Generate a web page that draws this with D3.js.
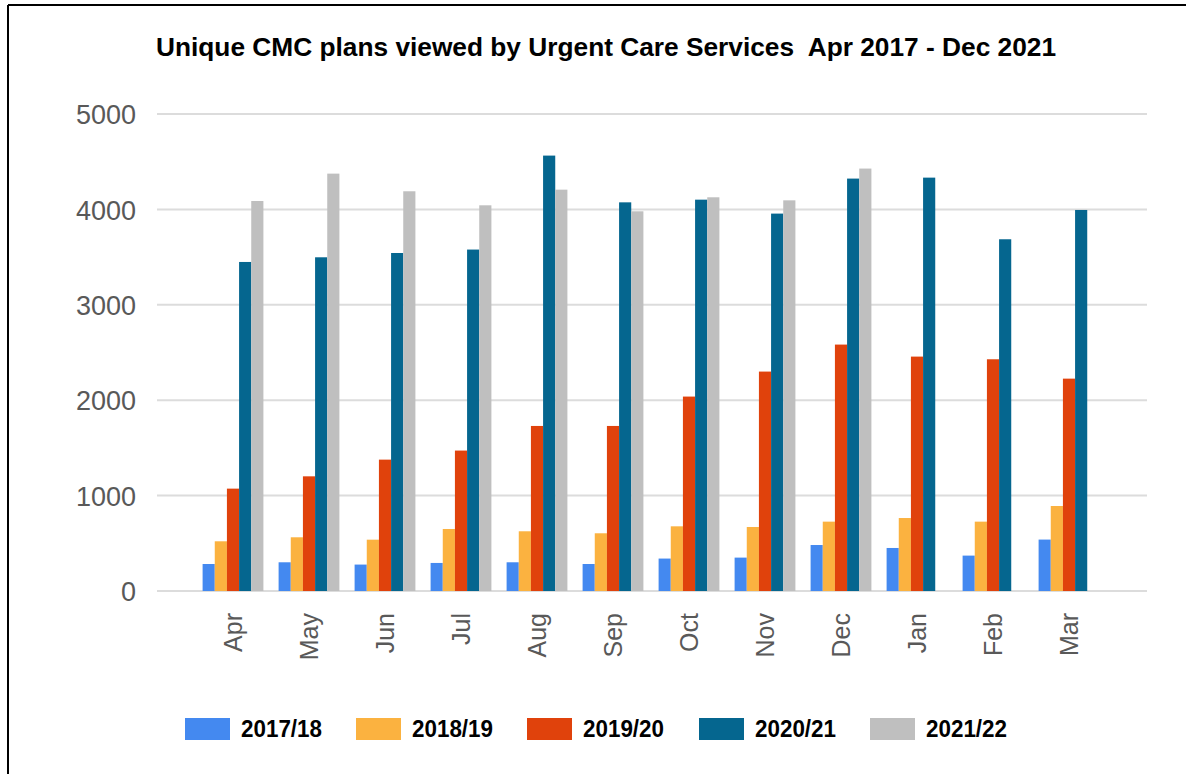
<!DOCTYPE html>
<html>
<head>
<meta charset="utf-8">
<script src="https://cdn.jsdelivr.net/npm/d3@7"></script>
<style>
  html, body { margin: 0; padding: 0; background: #fff; }
  svg { display: block; }
</style>
</head>
<body>
<svg id="chart" width="1186" height="774"></svg>
<script>
const months = ["Apr","May","Jun","Jul","Aug","Sep","Oct","Nov","Dec","Jan","Feb","Mar"];
const seriesNames = ["2017/18","2018/19","2019/20","2020/21","2021/22"];
const seriesColors = ["#4489f0","#fbb240","#e0420c","#05668f","#bfbfbf"];
const yTicks = [0,1000,2000,3000,4000,5000];

const v2017 = [283,301,277,294,301,283,340,350,482,451,371,539];
const v2018 = [521,563,538,650,626,605,678,671,727,765,727,891];
const v2019 = [1073,1202,1377,1472,1730,1730,2038,2300,2583,2457,2429,2226];
const v2020 = [3449,3498,3543,3579,4564,4074,4102,3956,4323,4333,3687,3994];
const v2021 = [4088,4375,4190,4043,4207,3980,4127,4095,4428,null,null,null];

const seriesValues = [v2017, v2018, v2019, v2020, v2021];
const titleText = "Unique CMC plans viewed by Urgent Care Services  Apr 2017 - Dec 2021";

const svg = d3.select("#chart");

// border (top + left)
svg.append("line").attr("x1", 8).attr("y1", 5).attr("x2", 1186).attr("y2", 5)
  .attr("stroke", "#000").attr("stroke-width", 2);
svg.append("line").attr("x1", 8).attr("y1", 5).attr("x2", 8).attr("y2", 774)
  .attr("stroke", "#000").attr("stroke-width", 2);

// title
svg.append("text")
  .attr("x", 606).attr("y", 56)
  .attr("text-anchor", "middle")
  .attr("font-family", "Liberation Sans, Arial, sans-serif")
  .attr("font-weight", "bold")
  .attr("font-size", 26)
  .attr("textLength", 900)
  .attr("lengthAdjust", "spacingAndGlyphs")
  .attr("fill", "#000")
  .style("white-space", "pre")
  .text(titleText);

const y = d3.scaleLinear().domain([0, 5000]).range([591, 114]);
const x = d3.scaleBand().domain(months).range([195, 1107]).paddingInner(0.2).paddingOuter(0.1);
const xs = d3.scaleBand().domain(seriesNames).range([0, x.bandwidth()]).padding(0);

// gridlines
const grid = svg.append("g");
grid.selectAll("line").data(yTicks).join("line")
  .attr("x1", 157).attr("x2", 1147)
  .attr("y1", d => y(d)).attr("y2", d => y(d))
  .attr("stroke", "#dcdcdc").attr("stroke-width", 2);

// y-axis labels
const yAxis = d3.axisLeft(y).tickValues(yTicks).tickSize(0).tickPadding(0).tickFormat(d3.format("d"));
const yg = svg.append("g").attr("transform", "translate(136,0)").call(yAxis);
yg.select(".domain").remove();
yg.selectAll("text")
  .attr("font-family", "Liberation Sans, Arial, sans-serif")
  .attr("font-size", 27)
  .attr("fill", "#595959")
  .attr("dy", "0.36em");

// bars
const groups = svg.append("g").selectAll("g").data(seriesNames).join("g")
  .attr("fill", (d, i) => seriesColors[i]);
groups.each(function(name, si) {
  const data = months.map((m, mi) => ({m, v: seriesValues[si][mi]})).filter(d => d.v != null);
  d3.select(this).selectAll("rect").data(data).join("rect")
    .attr("x", d => x(d.m) + xs(name))
    .attr("width", xs.bandwidth())
    .attr("y", d => y(d.v))
    .attr("height", d => y(0) - y(d.v));
});

// x-axis labels
const xAxis = d3.axisBottom(x).tickSize(0).tickPadding(0);
const xg = svg.append("g").attr("transform", "translate(0,613)").call(xAxis);
xg.select(".domain").remove();
xg.selectAll("text")
  .attr("font-family", "Liberation Sans, Arial, sans-serif")
  .attr("font-size", 25)
  .attr("fill", "#595959")
  .attr("transform", "rotate(-90)")
  .attr("text-anchor", "end")
  .attr("x", 0)
  .attr("y", 0)
  .attr("dy", "0.35em");

// legend
const legendX = [185, 356, 527, 699, 870];
const lg = svg.append("g").selectAll("g").data(seriesNames).join("g")
  .attr("transform", (d, i) => `translate(${legendX[i]},718)`);
lg.append("rect").attr("width", 45).attr("height", 22)
  .attr("fill", (d, i) => seriesColors[i]);
lg.append("text")
  .attr("x", 56).attr("y", 19)
  .attr("font-family", "Liberation Sans, Arial, sans-serif")
  .attr("font-weight", "bold")
  .attr("font-size", 24)
  .attr("textLength", 81)
  .attr("lengthAdjust", "spacingAndGlyphs")
  .attr("fill", "#000")
  .text(d => d);
</script>
</body>
</html>
